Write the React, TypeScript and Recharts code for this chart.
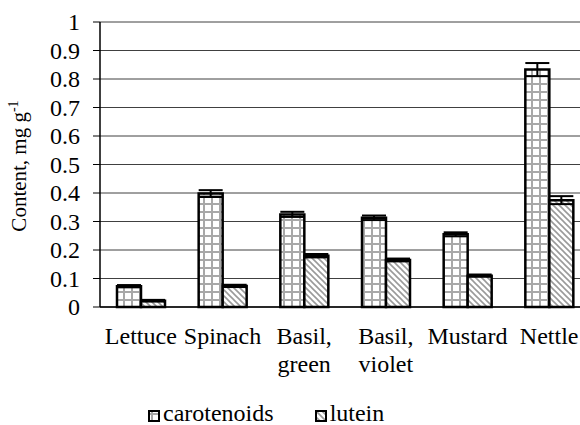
import React from "react";
import { BarChart, Bar, XAxis, YAxis, CartesianGrid, Legend, ErrorBar } from "recharts";

const categories = ["Lettuce", "Spinach", "Basil,\ngreen", "Basil,\nviolet", "Mustard", "Nettle"];
const carotenoids = [0.073, 0.398, 0.325, 0.313, 0.255, 0.833];
const carotenoidsErr = [0.004, 0.012, 0.009, 0.008, 0.007, 0.023];
const lutein = [0.022, 0.074, 0.18, 0.165, 0.11, 0.375];
const luteinErr = [0.003, 0.004, 0.006, 0.005, 0.004, 0.014];
const yTicks = [0, 0.1, 0.2, 0.3, 0.4, 0.5, 0.6, 0.7, 0.8, 0.9, 1];
const boundaryTicks = [0, 1, 2, 3, 4, 5, 6];

const data = categories.map((c, i) => ({
  name: c,
  carotenoids: carotenoids[i],
  carotenoidsErr: carotenoidsErr[i],
  lutein: lutein[i],
  luteinErr: luteinErr[i],
}));

const FONT = "Liberation Serif, serif";

const Patterns = ({ suffix }: { suffix: string }) => (
  <defs>
    <pattern id={"grid" + suffix} patternUnits="userSpaceOnUse" width="8" height="8">
      <rect width="8" height="8" fill="#ffffff" />
      <line x1="4" y1="0" x2="4" y2="8" stroke="#a8a8a8" strokeWidth="2" />
      <line x1="0" y1="4" x2="8" y2="4" stroke="#a8a8a8" strokeWidth="2" />
    </pattern>
    <pattern id={"hatch" + suffix} patternUnits="userSpaceOnUse" width="6" height="6">
      <rect width="6" height="6" fill="#ffffff" />
      <path d="M0,0 L6,6 M-1,5 L1,7 M5,-1 L7,1" stroke="#9a9a9a" strokeWidth="1.6" />
    </pattern>
  </defs>
);

const CatTick = (props: any) => {
  const { x, y, payload } = props;
  const lines = String(payload.value).split("\n");
  return (
    <text x={x} y={y + 36} textAnchor="middle" style={{ fontFamily: FONT, fontSize: 24 }} fill="#000">
      {lines.map((l, i) => (
        <tspan key={i} x={x} dy={i === 0 ? 0 : 27.6}>
          {l}
        </tspan>
      ))}
    </text>
  );
};

const YTick = (props: any) => {
  const { x, y, payload } = props;
  return (
    <text x={x} y={y} dy={8} textAnchor="end" style={{ fontFamily: FONT, fontSize: 24 }} fill="#000">
      {String(payload.value)}
    </text>
  );
};

const YTitle = () => (
  <text
    x={26}
    y={166}
    transform="rotate(-90, 26, 166)"
    textAnchor="middle"
    style={{ fontFamily: FONT, fontSize: 21 }}
    fill="#000"
  >
    Content, mg g
    <tspan dy={-8} style={{ fontSize: 14 }}>-1</tspan>
  </text>
);

const LegendContent = () => {
  const items = [
    { label: "carotenoids", fill: "url(#gridL)" },
    { label: "lutein", fill: "url(#hatchL)" },
  ];
  return (
    <div style={{ display: "flex", paddingLeft: 148, fontFamily: FONT, fontSize: 24, lineHeight: "24px", color: "#000" }}>
      {items.map((it, i) => (
        <div key={i} style={{ display: "flex", alignItems: "center", marginRight: 41 }}>
          <svg width={12} height={12} style={{ marginRight: 3, marginTop: 6 }}>
            <Patterns suffix="L" />
            <rect x={1} y={1} width={10} height={10} fill={it.fill} stroke="#000" strokeWidth={2} />
          </svg>
          <span>{it.label}</span>
        </div>
      ))}
    </div>
  );
};

export default function App() {
  return (
    <div style={{ position: "absolute", left: 0, top: 0, width: 580, height: 425, overflow: "hidden", background: "#fff", fontFamily: FONT }}>
      <BarChart
        width={600}
        height={425}
        data={data}
        margin={{ top: 22, right: 10, bottom: 0, left: 0 }}
        barSize={24}
        barGap={0}
      >
        <Patterns suffix="" />
        <CartesianGrid vertical={false} stroke="#404040" strokeWidth={1} />
        <XAxis
          xAxisId="cat"
          dataKey="name"
          height={93}
          axisLine={false}
          tickLine={false}
          tickSize={0}
          tickMargin={0}
          interval={0}
          tick={<CatTick />}
        />
        <XAxis
          type="number"
          domain={[0, 6]}
          ticks={boundaryTicks}
          tick={false}
          height={1}
          tickSize={7}
          axisLine={{ stroke: "#000", strokeWidth: 1.5 }}
          tickLine={{ stroke: "#000", strokeWidth: 1.5 }}
          allowDataOverflow
        />
        <YAxis
          width={100}
          domain={[0, 1]}
          ticks={yTicks}
          interval={0}
          tickSize={7}
          tickMargin={13}
          axisLine={{ stroke: "#000", strokeWidth: 1.5 }}
          tickLine={{ stroke: "#000", strokeWidth: 1 }}
          tick={<YTick />}
          label={<YTitle />}
        />
        <Legend verticalAlign="bottom" height={24} content={<LegendContent />} />
        <Bar xAxisId="cat" dataKey="carotenoids" fill="url(#grid)" stroke="#000" strokeWidth={2.5} isAnimationActive={false}>
          <ErrorBar dataKey="carotenoidsErr" width={12} stroke="#000" strokeWidth={2} direction="y" />
        </Bar>
        <Bar xAxisId="cat" dataKey="lutein" fill="url(#hatch)" stroke="#000" strokeWidth={2.5} isAnimationActive={false}>
          <ErrorBar dataKey="luteinErr" width={12} stroke="#000" strokeWidth={2} direction="y" />
        </Bar>
      </BarChart>
    </div>
  );
}
